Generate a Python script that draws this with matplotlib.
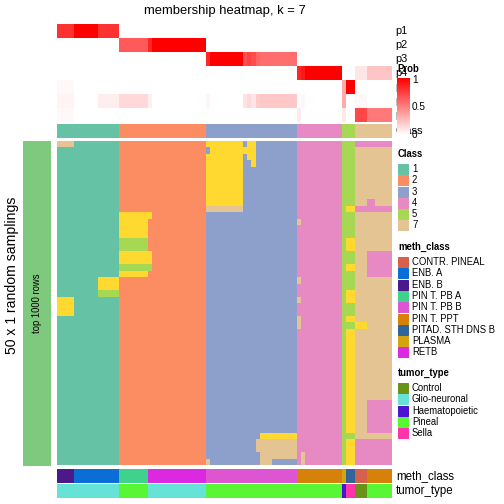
import numpy as np
import matplotlib
matplotlib.use("Agg")
import matplotlib.pyplot as plt
from matplotlib.colors import ListedColormap, LinearSegmentedColormap
from matplotlib.patches import Rectangle

plt.rcParams['font.family'] = ['Liberation Sans', 'DejaVu Sans']

# column groups (left to right) and their widths in columns
group_width = [4, 6, 5, 7, 1, 13, 1, 8, 1, 1, 1, 1, 3, 6, 1, 1, 9, 1, 2, 3, 2, 4]

# membership probabilities per group, p1..p7
prob = {
    'p1': [.8, 1, .8, 0, 0, 0, 0, 0, 0, 0, 0, 0, 0, 0, 0, 0, 0, 0, 0, 0, 0, 0],
    'p2': [0, 0, 0, .65, .85, 1, 0, 0, 0, 0, 0, 0, 0, 0, 0, 0, 0, 0, 0, 0, 0, 0],
    'p3': [0, 0, 0, 0, 0, 0, .85, 1, .68, .74, .7, .6, .57, .57, 0, 0, 0, 0, 0, 0, 0, 0],
    'p4': [0, 0, 0, 0, 0, 0, 0, 0, 0, 0, 0, 0, 0, 0, .85, .9, 1, 0, 0, .1, .23, .23],
    'p5': [.03, 0, 0, 0, 0, 0, 0, 0, 0, 0, 0, 0, 0, 0, 0, 0, 0, .33, 1, 0, 0, 0],
    'p6': [.05, 0, .07, .15, .06, 0, .04, 0, .12, .15, .1, .2, .22, .22, 0, .04, 0, .33, 0, .03, 0, 0],
    'p7': [.03, 0, 0, 0, 0, 0, 0, 0, 0, 0, 0, 0, 0, 0, .08, 0, 0, .09, 0, .72, .52, .52],
}

group_class = [1, 1, 1, 2, 2, 2, 3, 3, 3, 3, 3, 3, 3, 3, 4, 4, 4, 5, 5, 7, 7, 7]
group_meth = ['ENB. B', 'ENB. A', 'ENB. A', 'PIN T. PB A', 'RETB', 'RETB',
              'PIN T. PB B', 'PIN T. PB B', 'PIN T. PB B', 'PIN T. PB B', 'PIN T. PB B',
              'PIN T. PB B', 'PIN T. PB B', 'PIN T. PB B', 'PIN T. PPT', 'PIN T. PPT',
              'PIN T. PPT', 'PLASMA', 'PITAD. STH DNS B', 'CONTR. PINEAL',
              'PIN T. PPT', 'PIN T. PPT']
group_tumor = ['Glio-neuronal', 'Glio-neuronal', 'Glio-neuronal', 'Pineal',
               'Glio-neuronal', 'Glio-neuronal', 'Pineal', 'Pineal', 'Pineal', 'Pineal',
               'Pineal', 'Pineal', 'Pineal', 'Pineal', 'Pineal', 'Pineal', 'Pineal',
               'Haematopoietic', 'Sella', 'Control', 'Pineal', 'Pineal']

# class labels of the 50 random samplings (one string per row, spaces split groups)
samplings = [
    "7777 111111 11111 2222222 2 2222222222222 6 66666666 3 6 6 3 333 333333 4 4 444444444 5 55 444 44 4444",
    "1111 111111 11111 2222222 2 2222222222222 3 66666666 6 6 6 3 333 333333 4 4 444444444 5 55 777 77 7777",
    "1111 111111 11111 2222222 2 2222222222222 6 66666666 3 6 6 3 333 333333 4 4 444444444 5 55 777 77 7777",
    "1111 111111 11111 2222222 2 2222222222222 6 66666666 3 3 6 3 333 333333 4 4 444444444 5 55 777 77 7777",
    "1111 111111 11111 2222222 2 2222222222222 6 66666666 3 3 3 3 333 333333 4 4 444444444 5 55 777 77 7777",
    "1111 111111 11111 2222222 2 2222222222222 6 66666666 3 3 3 3 333 333333 4 4 444444444 5 55 777 77 7777",
    "1111 111111 11111 2222222 2 2222222222222 6 66666666 3 3 3 3 333 333333 4 4 444444444 5 55 777 77 7777",
    "1111 111111 11111 2222222 2 2222222222222 6 66666666 3 3 3 3 333 333333 4 4 444444444 5 55 777 77 7777",
    "1111 111111 11111 2222222 2 2222222222222 6 66666666 3 3 3 3 333 333333 4 4 444444444 5 55 777 77 7777",
    "1111 111111 11111 2222222 2 2222222222222 6 66666666 3 3 3 3 333 333333 4 4 444444444 5 55 777 44 7777",
    "1111 111111 11111 2222222 2 2222222222222 7 77777777 3 3 3 3 333 333333 4 4 444444444 5 66 444 44 4444",
    "1111 111111 11111 6666666 6 2222222222222 3 33333333 3 3 3 3 333 333333 4 4 444444444 5 55 777 77 7777",
    "1111 111111 11111 6666666 2 2222222222222 3 33333333 3 3 3 3 333 333333 7 4 444444444 5 55 777 77 7777",
    "1111 111111 11111 6666666 2 2222222222222 3 33333333 3 3 3 3 333 333333 4 4 444444444 5 55 777 77 7777",
    "1111 111111 11111 6666666 2 2222222222222 3 33333333 3 3 3 3 333 333333 4 4 444444444 5 55 777 77 7777",
    "1111 111111 11111 5555555 2 2222222222222 3 33333333 3 3 3 3 333 333333 4 4 444444444 5 66 777 77 7777",
    "1111 111111 11111 5555555 2 2222222222222 3 33333333 3 3 3 3 333 333333 4 4 444444444 5 66 777 77 7777",
    "1111 111111 11111 6666666 6 2222222222222 3 33333333 3 3 3 3 333 333333 4 4 444444444 5 55 777 44 4444",
    "1111 111111 11111 6666666 6 2222222222222 3 33333333 3 3 3 3 333 333333 4 4 444444444 5 55 777 44 4444",
    "1111 111111 11111 5555555 5 2222222222222 3 33333333 3 3 3 3 333 333333 4 4 444444444 5 66 777 44 4444",
    "1111 111111 11111 6666666 2 2222222222222 3 33333333 3 3 3 3 333 333333 4 4 444444444 5 55 777 44 4444",
    "1111 111111 66666 2222222 2 2222222222222 3 33333333 3 3 3 3 333 333333 7 4 444444444 5 55 777 77 7777",
    "1111 111111 66666 2222222 2 2222222222222 3 33333333 3 3 3 3 333 333333 4 4 444444444 5 55 777 77 7777",
    "1111 111111 55555 2222222 2 2222222222222 3 33333333 3 3 3 3 333 333333 4 4 444444444 5 66 777 77 7777",
    "6666 111111 11111 2222222 2 2222222222222 3 33333333 3 3 3 3 333 333333 7 4 444444444 5 66 777 77 7777",
    "6666 111111 11111 2222222 2 2222222222222 3 33333333 3 3 3 3 333 333333 4 4 444444444 5 55 777 77 7777",
    "6666 111111 11111 2222222 2 2222222222222 3 33333333 3 3 3 3 333 333333 4 4 444444444 5 55 777 77 7777",
    "1111 111111 11111 2222222 2 2222222222222 3 33333333 3 3 3 3 333 333333 7 4 444444444 5 66 777 77 7777",
    "1111 111111 11111 2222222 2 2222222222222 3 33333333 3 3 3 3 333 333333 7 4 444444444 5 55 666 77 7777",
    "1111 111111 11111 2222222 2 2222222222222 3 33333333 3 3 3 3 333 333333 4 4 444444444 5 66 777 77 7777",
    "1111 111111 11111 2222222 2 2222222222222 3 33333333 3 3 3 3 333 333333 4 4 444444444 5 66 777 77 7777",
    "1111 111111 11111 2222222 2 2222222222222 3 33333333 3 3 3 3 333 333333 4 4 444444444 5 66 777 77 7777",
    "1111 111111 11111 2222222 2 2222222222222 3 33333333 3 3 3 3 333 333333 4 4 444444444 5 66 777 77 7777",
    "1111 111111 11111 2222222 2 2222222222222 3 33333333 3 3 3 3 333 333333 4 4 444444444 5 66 777 77 7777",
    "1111 111111 11111 2222222 2 2222222222222 3 33333333 3 3 3 3 333 333333 4 4 444444444 5 66 777 77 7777",
    "1111 111111 11111 2222222 2 2222222222222 3 33333333 3 3 3 3 333 333333 4 4 444444444 5 66 777 77 7777",
    "1111 111111 11111 2222222 2 2222222222222 3 33333333 3 3 3 3 333 333333 4 4 444444444 5 66 777 77 7777",
    "1111 111111 11111 2222222 2 2222222222222 3 33333333 3 3 3 3 333 333333 4 4 444444444 5 66 777 77 7777",
    "1111 111111 11111 2222222 2 2222222222222 3 33333333 3 3 3 3 333 333333 4 4 444444444 5 66 777 77 7777",
    "1111 111111 11111 2222222 2 2222222222222 3 33333333 3 3 3 3 333 333333 4 4 444444444 5 66 777 77 7777",
    "1111 111111 11111 2222222 2 2222222222222 3 33333333 3 3 3 3 333 333333 4 4 444444444 5 66 777 44 4444",
    "1111 111111 11111 2222222 2 2222222222222 3 33333333 3 3 3 3 333 333333 4 4 444444444 5 66 777 44 4444",
    "1111 111111 11111 2222222 2 2222222222222 3 33333333 3 3 3 3 333 333333 4 4 444444444 5 66 777 44 4444",
    "1111 111111 11111 2222222 2 2222222222222 3 33333333 3 3 3 3 333 333333 4 4 444444444 5 66 777 44 4444",
    "1111 111111 11111 2222222 2 2222222222222 3 33333333 3 3 3 3 333 333333 4 4 444444444 5 66 777 44 4444",
    "1111 111111 11111 2222222 2 2222222222222 3 33333333 3 3 3 3 666 666666 4 4 444444444 5 55 777 77 7777",
    "1111 111111 11111 2222222 2 2222222222222 3 33333333 3 3 3 7 777 777777 4 4 444444444 5 66 444 44 4444",
    "1111 111111 11111 2222222 2 2222222222222 3 33333333 3 3 3 7 777 777777 4 4 444444444 5 66 444 44 4444",
    "1111 111111 11111 2222222 2 2222222222222 3 33333333 3 3 3 3 777 777777 4 7 444444444 5 66 444 44 4444",
    "1111 111111 11111 2222222 2 2222222222222 7 33333333 3 3 3 3 777 333333 4 7 444444444 5 66 444 44 4444",
]

class_colors = {1: '#66C2A5', 2: '#FC8D62', 3: '#8DA0CB', 4: '#E78AC3',
                5: '#A6D854', 6: '#FFD92F', 7: '#E5C494'}
meth_colors = {'CONTR. PINEAL': '#D6604A', 'ENB. A': '#0A6ED6', 'ENB. B': '#4B1A8A',
               'PIN T. PB A': '#3FD28C', 'PIN T. PB B': '#DD55D0', 'PIN T. PPT': '#D6820A',
               'PITAD. STH DNS B': '#30659A', 'PLASMA': '#D4A312', 'RETB': '#DD28E2'}
tumor_colors = {'Control': '#6A9118', 'Glio-neuronal': '#66E3D6',
                'Haematopoietic': '#4A14D0', 'Pineal': '#58F634', 'Sella': '#FF33AA'}

W, H = 504, 504
fig = plt.figure(figsize=(W / 72, H / 72), dpi=72)


def px_axes(x0, y0, x1, y1):
    ax = fig.add_axes([x0 / W, 1 - y1 / H, (x1 - x0) / W, (y1 - y0) / H])
    ax.set_axis_off()
    return ax


def px_text(x, y, s, **kw):
    fig.text(x / W, 1 - y / H, s, **kw)


def cat_bar(x0, y0, x1, y1, values, colors):
    keys = list(colors.keys())
    idx = np.array([[keys.index(v) for v in values]])
    ax = px_axes(x0, y0, x1, y1)
    ax.imshow(idx, cmap=ListedColormap([colors[k] for k in keys]), vmin=-0.5,
              vmax=len(keys) - 0.5, aspect='auto', interpolation='nearest')


X0, X1 = 57, 392
reps = np.array(group_width)

# top: probability rows
prob_cmap = LinearSegmentedColormap.from_list('prob', ['white', 'red'])
pm = np.array([np.repeat(prob[k], reps) for k in prob])
ax = px_axes(X0, 24, X1, 122)
ax.imshow(pm, cmap=prob_cmap, vmin=0, vmax=1, aspect='auto', interpolation='nearest')
for i, k in enumerate(prob):
    px_text(395, 31 + i * 14, k, fontsize=11, va='center', ha='left')
px_text(395, 131, 'Class', fontsize=11, va='center', ha='left')

cat_bar(X0, 124, X1, 138, np.repeat(group_class, reps), class_colors)

# main heatmap
mat = np.array([[int(c) for c in r.replace(' ', '')] for r in samplings])
ax = px_axes(X0, 141, X1, 465)
keys = list(class_colors.keys())
ax.imshow(mat - 1, cmap=ListedColormap([class_colors[k] for k in keys]), vmin=-0.5,
          vmax=6.5, aspect='auto', interpolation='nearest')

# bottom annotations
cat_bar(X0, 469, X1, 483, np.repeat(group_meth, reps), meth_colors)
cat_bar(X0, 484, X1, 498, np.repeat(group_tumor, reps), tumor_colors)
px_text(396, 476, 'meth_class', fontsize=11.5, va='center')
px_text(396, 491, 'tumor_type', fontsize=11.5, va='center')

# title and row title
px_text(224.5, 11, 'membership heatmap, k = 7', fontsize=13, ha='center', va='center')
px_text(12, 275, '50 x 1 random samplings', fontsize=14, rotation=90,
        ha='center', va='center')
fig.patches.append(Rectangle((23 / W, 1 - 465 / H), 27 / W, 324 / H,
                             transform=fig.transFigure, color='#7FC97F'))
px_text(37, 303, 'top 1000 rows', fontsize=9.5, rotation=90, ha='center', va='center')

# Prob colour bar (drawn over the row names)
px_text(397, 69, 'Prob', fontsize=9.5, fontweight='bold', va='center', zorder=5)
cax = fig.add_axes([397 / W, 1 - 135 / H, 13 / W, 57 / H], zorder=5)
cax.imshow(np.linspace(1, 0, 100)[:, None], cmap=prob_cmap, aspect='auto')
cax.set_axis_off()
for v, lab in [(1, '1'), (0.5, '0.5'), (0, '0')]:
    yy = 80 + (1 - v) * 55
    px_text(412, yy, lab, fontsize=10, va='center', zorder=6)

# legends
def legend(y_title, title, labels, colors):
    px_text(398, y_title, title, fontsize=9.5, fontweight='bold', va='center')
    for i, lab in enumerate(labels):
        y = y_title + 15 + i * 11.3
        fig.patches.append(Rectangle((398 / W, 1 - (y + 5) / H), 10 / W, 10 / H,
                                     transform=fig.transFigure, color=colors[lab]))
        px_text(412, y, lab, fontsize=9.5, va='center')


legend(154, 'Class', [1, 2, 3, 4, 5, 7], class_colors)
legend(247, 'meth_class', list(meth_colors.keys()), meth_colors)
legend(373, 'tumor_type', list(tumor_colors.keys()), tumor_colors)

fig.savefig('out.png', dpi=72)
